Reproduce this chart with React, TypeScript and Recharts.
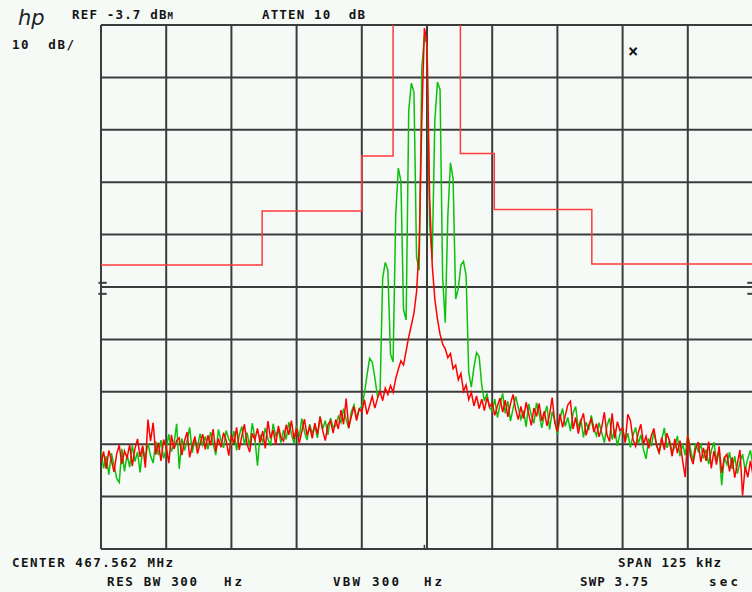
import { LineChart, Line, XAxis, YAxis, ReferenceLine } from "recharts";

// sweep: 251 points across 125 kHz span, offsets in kHz from 467.562 MHz
const SPAN_START = -62.5;
const STEP = 0.5;

// max-hold trace (red), dBm
const redTrace = [
  -87.2, -85.1, -88.4, -84.9, -86.8, -89.0, -85.6, -83.9, -87.5, -85.0,
  -86.3, -83.8, -87.9, -84.6, -82.7, -86.1, -84.0, -88.2, -79.0, -83.1,
  -79.6, -85.7, -83.4, -86.9, -82.8, -84.1, -87.3, -81.9, -84.6, -83.0,
  -82.5, -85.8, -83.1, -81.4, -86.2, -84.0, -82.2, -85.5, -83.6, -81.8,
  -84.7, -82.0, -83.9, -80.8, -85.1, -82.6, -84.3, -81.5, -83.0, -85.9,
  -81.9, -83.6, -80.5, -84.8, -82.1, -79.9, -83.7, -85.2, -81.6, -82.9,
  -80.7, -83.4, -81.2, -84.5, -79.3, -82.6, -81.0, -83.8, -80.2, -82.4,
  -83.1, -80.0, -81.9, -79.2, -82.7, -80.6, -83.5, -81.3, -78.9, -82.0,
  -80.4, -82.6, -79.7, -81.8, -78.5, -81.1, -83.0, -80.0, -79.2, -81.6,
  -79.0, -80.8, -77.2, -79.9, -75.0, -80.6, -78.4, -76.5, -79.2, -77.0,
  -77.5, -75.2, -78.0, -76.3, -74.6, -76.8, -75.0, -73.6, -75.4, -73.0,
  -74.2, -72.5, -73.8, -71.2, -69.4, -67.8, -68.6, -65.9, -63.2, -61.0,
  -58.7, -54.6, -46.0, -22.0, -4.3, -7.0, -36.5, -49.5, -56.0, -59.8,
  -62.7, -64.6, -65.5, -67.2, -66.4, -69.3, -68.6, -71.4, -70.2, -73.6,
  -72.4, -75.2, -73.8, -76.4, -74.5, -76.9, -75.1, -77.3, -74.8, -76.6,
  -75.8, -78.2, -76.4, -74.9, -77.6, -75.3, -78.5, -76.0, -74.2, -77.1,
  -79.0, -76.5, -78.8, -75.7, -77.9, -80.1, -76.8, -78.4, -75.9, -79.3,
  -77.4, -80.2, -78.0, -74.8, -79.6, -81.3, -77.9, -80.5, -78.3, -76.2,
  -75.5, -80.8, -78.6, -81.7, -79.3, -77.8, -82.0, -80.1, -78.9, -81.4,
  -79.8, -82.3, -80.5, -77.6, -81.9, -83.2, -77.8, -82.6, -79.4, -81.1,
  -80.6, -83.4, -78.0, -79.2, -82.8, -84.1, -81.5, -79.9, -83.7, -82.2,
  -84.5, -82.1, -80.7, -83.9, -85.3, -82.4, -84.8, -81.6, -83.2, -86.0,
  -82.7, -85.4, -83.0, -86.8, -90.0, -82.0, -85.9, -87.5, -84.6, -83.3,
  -87.1, -84.4, -86.9, -83.2, -88.3, -85.0, -87.6, -84.1, -89.2, -86.3,
  -85.6, -88.9, -86.2, -90.1, -87.4, -84.8, -93.5, -88.0, -90.0, -86.9, -89.6,
];

// modulated trace (green), dBm
const greenTrace = [
  -84.8, -88.3, -86.0, -89.5, -85.4, -87.7, -90.2, -91.0, -84.6, -88.9,
  -85.7, -88.1, -83.9, -87.0, -85.2, -89.1, -84.3, -86.6, -83.5, -85.9,
  -87.3, -83.2, -85.8, -82.9, -86.4, -84.7, -81.8, -85.1, -83.6, -79.8,
  -88.4, -82.6, -84.9, -83.1, -80.5, -85.3, -82.8, -84.2, -81.7, -83.9,
  -82.2, -84.7, -81.4, -83.5, -85.8, -80.9, -83.0, -84.4, -81.1, -82.8,
  -83.6, -81.2, -84.9, -82.0, -80.3, -83.8, -81.5, -84.1, -79.7, -82.5,
  -87.8, -81.9, -83.3, -80.6, -82.7, -84.0, -79.8, -82.1, -80.9, -83.4,
  -81.0, -82.8, -79.5, -81.7, -83.6, -80.2, -82.4, -78.8, -81.3, -82.9,
  -79.9, -81.6, -80.3, -82.5, -78.4, -80.8, -79.2, -81.9, -78.7, -80.5,
  -80.2, -78.4, -79.6, -76.9, -79.0, -80.7, -77.5, -76.2, -78.8, -76.9,
  -76.5, -74.0, -70.5, -67.3, -68.0, -71.0, -74.5, -73.8, -52.0, -49.0,
  -50.5, -66.5, -68.0, -40.0, -31.0, -33.5, -58.0, -60.0, -20.0, -14.8,
  -16.5, -48.0, -50.5, -12.0, -5.8, -7.5, -42.0, -48.5, -22.0, -14.6,
  -16.0, -52.0, -60.5, -40.0, -30.0, -33.0, -56.0, -54.0, -49.5, -48.8,
  -51.5, -70.0, -72.8, -69.0, -66.2, -67.0, -72.5, -75.5, -74.0, -76.8,
  -77.4, -75.1, -78.6, -76.2, -74.0, -77.8, -75.5, -79.3, -76.9, -74.6,
  -76.7, -78.9, -77.3, -80.4, -76.0, -78.2, -79.7, -75.8, -77.9, -80.6,
  -78.1, -76.4, -80.9, -77.5, -79.2, -81.8, -78.7, -76.9, -80.3, -78.6,
  -81.2, -77.8, -76.5, -80.7, -78.9, -82.4, -79.5, -81.0, -78.2, -80.8,
  -82.1, -79.6, -81.5, -83.4, -80.2, -78.7, -82.8, -80.9, -84.0, -81.7,
  -80.8, -83.1, -81.6, -84.3, -82.0, -80.5, -83.6, -81.9, -84.7, -86.5,
  -82.6, -84.1, -81.3, -83.8, -85.5, -82.9, -80.6, -84.4, -83.0, -85.2,
  -84.3, -82.1, -86.0, -83.7, -85.8, -81.9, -84.6, -86.9, -83.5, -85.1,
  -83.8, -86.4, -84.7, -87.5, -85.0, -83.3, -86.8, -84.9, -91.5, -86.1,
  -87.6, -85.2, -88.4, -86.0, -89.3, -87.1, -85.6, -88.7, -86.4, -84.9, -87.8,
];

// spectrum mask (limit line)
const maskFreq = [-62.5, -31.6, -31.6, -12.5, -12.5, -6.5, -6.5, 6.4, 6.4, 12.9, 12.9, 31.6, 31.6, 62.5];
const maskLevel = [-49.5, -49.5, -39.2, -39.2, -28.7, -28.7, 10, 10, -28.2, -28.2, -38.9, -38.9, -49.3, -49.3];

const freqTicks = [-62.5, -50, -37.5, -25, -12.5, 0, 12.5, 25, 37.5, 50, 62.5];
const levelTicks = [-103.7, -93.7, -83.7, -73.7, -63.7, -53.7, -43.7, -33.7, -23.7, -13.7, -3.7];

// small graticule marks on the side edges and at the bottom centre
const edgeMarkLevels = [-52.9, -55.0];
const bottomMarkFreq = -0.5;

const rows = redTrace.map((r, i) => ({ f: SPAN_START + i * STEP, red: r, green: greenTrace[i] }));
const maskRows = maskFreq.map((f, i) => ({ f, level: maskLevel[i] }));

const BG = "#f5faf7";
const GRID = "#3c3c3c";
const INK = "#141414";
const font = { fontFamily: "'DejaVu Sans Mono', monospace", fontWeight: 700, fontSize: 12.5, fill: INK, whiteSpace: "pre" as const };

export default function App() {
  return (
    <div style={{ position: "absolute", left: 0, top: 0, width: 752, height: 592, overflow: "hidden", background: BG }}>
      <LineChart width={754} height={592} data={rows} margin={{ top: 25, right: 1, bottom: 43, left: 101 }}>
        <XAxis
          dataKey="f"
          type="number"
          domain={[-62.5, 62.5]}
          ticks={freqTicks}
          allowDataOverflow
          height={0}
          tick={false}
          tickLine={false}
          axisLine={false}
        />
        <YAxis
          type="number"
          domain={[-103.7, -3.7]}
          ticks={levelTicks}
          allowDataOverflow
          width={0}
          tick={false}
          tickLine={false}
          axisLine={false}
        />
        {freqTicks.map((x) => (
          <ReferenceLine key={"x" + x} x={x} stroke={GRID} strokeWidth={2} />
        ))}
        {levelTicks.map((y) => (
          <ReferenceLine key={"y" + y} y={y} stroke={GRID} strokeWidth={2} />
        ))}
        {edgeMarkLevels.map((y) => (
          <ReferenceLine key={"l" + y} segment={[{ x: -63.0, y }, { x: -61.4, y }]} stroke={GRID} strokeWidth={2} ifOverflow="visible" />
        ))}
        {edgeMarkLevels.map((y) => (
          <ReferenceLine key={"r" + y} segment={[{ x: 61.4, y }, { x: 63.0, y }]} stroke={GRID} strokeWidth={2} ifOverflow="visible" />
        ))}
        <ReferenceLine segment={[{ x: bottomMarkFreq, y: -102.9 }, { x: bottomMarkFreq, y: -103.7 }]} stroke={GRID} strokeWidth={1.5} />
        <Line data={maskRows} dataKey="level" stroke="#ff3b3b" strokeWidth={1.5} dot={false} isAnimationActive={false} />
        <Line dataKey="green" stroke="#0cc00c" strokeWidth={1.5} dot={false} isAnimationActive={false} />
        <Line dataKey="red" stroke="#ff0000" strokeWidth={1.5} dot={false} isAnimationActive={false} />
      </LineChart>
      <svg width={752} height={592} style={{ position: "absolute", left: 0, top: 0, pointerEvents: "none" }}>
        <text x={18} y={25} style={{ fontFamily: "'DejaVu Sans', sans-serif", fontStyle: "italic", fontSize: 21, fill: "#222" }}>hp</text>
        <text x={72} y={19} textLength={101} style={font}>
          REF -3.7 dB<tspan style={{ fontVariant: "small-caps" }}>m</tspan>
        </text>
        <text x={262} y={19} textLength={103} style={font}>ATTEN 10  dB</text>
        <text x={12} y={49} textLength={62} style={font}>10  dB/</text>
        <text x={628} y={57} style={{ ...font, fontSize: 17 }}>×</text>
        <text x={12} y={567} textLength={161} style={font}>CENTER 467.562 MHz</text>
        <text x={618} y={567} textLength={103} style={font}>SPAN 125 kHz</text>
        <text x={107} y={586} textLength={90} style={font}>RES BW 300</text>
        <text x={224} y={586} textLength={18} style={font}>Hz</text>
        <text x={333} y={586} textLength={66} style={font}>VBW 300</text>
        <text x={424} y={586} textLength={18} style={font}>Hz</text>
        <text x={580} y={586} textLength={68} style={font}>SWP 3.75</text>
        <text x={709} y={586} textLength={29} style={font}>sec</text>
      </svg>
    </div>
  );
}
